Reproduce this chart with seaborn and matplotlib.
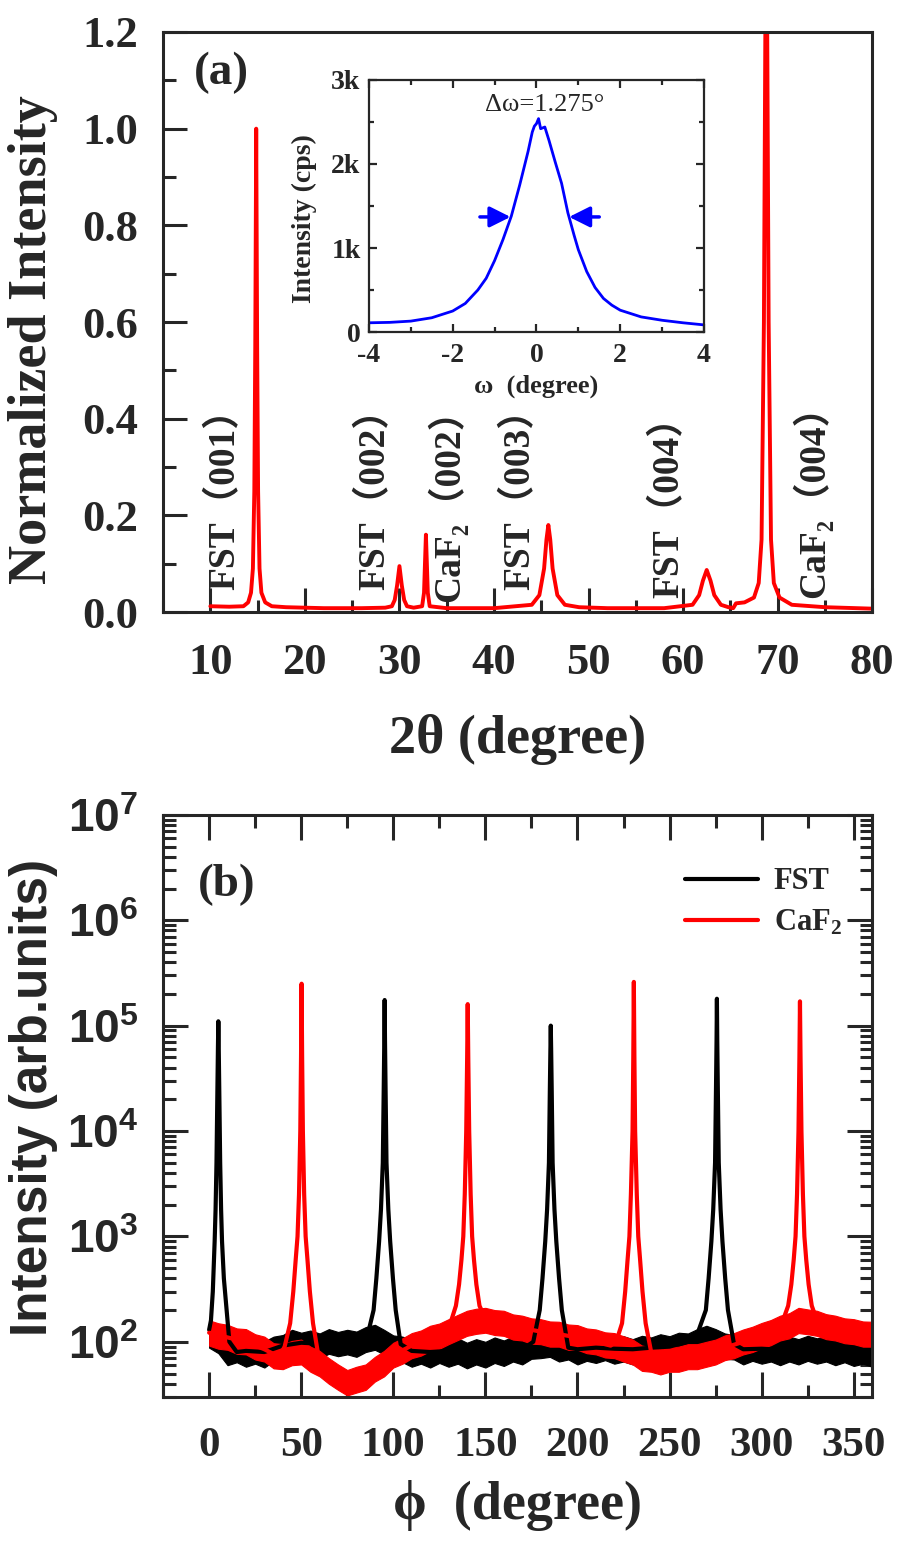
import numpy as np
import pandas as pd
import matplotlib
matplotlib.use('Agg')
import matplotlib.pyplot as plt
from matplotlib.ticker import MultipleLocator, LogLocator, NullFormatter, FuncFormatter, FormatStrFormatter
import seaborn as sns

# ---- (a) 2theta-omega scan, normalized ----
two_theta = [10, 12, 13.5, 14.0, 14.3, 14.5, 14.65, 14.75, 14.85, 14.95, 15.05, 15.2, 15.4, 15.8,
             16.5, 18, 22, 26, 28.5, 29.2, 29.5, 29.75, 30.0, 30.25, 30.5, 30.8, 31.5, 32.4,
             32.6, 32.7, 32.8, 32.9, 33.0, 33.2, 35, 40, 44.0, 44.8, 45.3, 45.55, 45.75, 45.95,
             46.2, 46.7, 47.5, 49, 52, 58, 61.0, 61.7, 62.1, 62.5, 62.9, 63.3, 64.0, 64.8,
             65.3, 65.6, 66.5, 67.5, 68.0, 68.3, 68.55, 68.8, 69.05, 69.3, 69.6, 70.2, 71.5,
             75, 80]
norm_int = [0.012, 0.011, 0.012, 0.02, 0.04, 0.09, 0.25, 0.55, 1.0, 0.55, 0.25, 0.09, 0.04, 0.02,
            0.012, 0.01, 0.008, 0.008, 0.009, 0.012, 0.025, 0.055, 0.095, 0.055, 0.025, 0.012,
            0.009, 0.012, 0.04, 0.1, 0.16, 0.1, 0.04, 0.012, 0.008, 0.008, 0.015, 0.035, 0.09,
            0.15, 0.18, 0.15, 0.09, 0.035, 0.015, 0.01, 0.008, 0.008, 0.015, 0.035, 0.065, 0.087,
            0.065, 0.035, 0.015, 0.01, 0.008, 0.018, 0.02, 0.03, 0.06, 0.15, 0.6, 1.6, 0.6, 0.15,
            0.06, 0.03, 0.015, 0.01, 0.007]
peak_labels = ['FST（001）', 'FST（002）', 'CaF₂（002）', 'FST（003）', 'FST（004）', 'CaF₂（004）']
label_x = [11.5, 27.4, 35.0, 42.7, 58.5, 73.6]
label_y = [0.045, 0.045, 0.02, 0.045, 0.03, 0.03]

# ---- inset: rocking curve ----
omega = [-4, -3.5, -3, -2.5, -2, -1.7, -1.4, -1.2, -1.0, -0.8, -0.6, -0.4, -0.2, -0.1,
         -0.05, 0, 0.05, 0.1, 0.2, 0.3, 0.45, 0.6, 0.75, 0.9, 1.0, 1.2, 1.4, 1.6, 1.8,
         2.0, 2.5, 3.0, 3.5, 4.0]
rock_cps = [110, 115, 130, 170, 250, 340, 500, 640, 850, 1100, 1380, 1750, 2150, 2380,
            2450, 2480, 2540, 2420, 2440, 2280, 2020, 1770, 1420, 1150, 980, 720, 530, 400, 320,
            260, 180, 140, 110, 85]
fwhm_text = 'Δω=1.275°'
arrow_y = 1370
arrow_left = (-1.35, -0.62)
arrow_right = (1.5, 0.78)

# ---- (b) phi scans ----
phi_fst = [0, 1, 2, 3, 3.5, 4, 4.5, 4.8, 5.0, 5.2, 5.5, 6, 6.5, 7, 8, 9.5, 11, 15, 20, 30, 40,
           50, 60, 70, 80, 86, 89.3, 90.8, 92.3, 93.3, 94.3, 94.8, 95.1, 95.3, 95.5, 95.8,
           96.3, 97.3, 98.3, 99.8, 101.3, 104, 110, 120, 130, 140, 150, 160, 170, 176, 179.5,
           181, 182.5, 183.5, 184.5, 185, 185.3, 185.5, 185.7, 186, 186.5, 187.5, 188.5, 190,
           191.5, 195, 200, 210, 220, 230, 240, 250, 264, 269.7, 271.2, 272.7, 273.7, 274.7,
           275.2, 275.5, 275.7, 275.9, 276.2, 276.7, 277.7, 278.7, 280.2, 281.7, 285, 290,
           300, 310, 320, 330, 340, 350, 360]
int_fst = [130, 160, 300, 900, 1800, 5000, 25000, 65000, 110000, 65000, 25000, 5000, 1800,
           900, 400, 200, 100, 80, 82, 80, 92, 98, 96, 100, 100, 115, 200, 400, 900, 1800,
           5000, 25000, 70000, 175000, 70000, 25000, 5000, 1800, 900, 400, 200, 95, 82, 80,
           82, 78, 80, 82, 85, 100, 200, 400, 900, 1800, 5000, 25000, 60000, 100000, 60000,
           25000, 5000, 1800, 900, 400, 200, 88, 85, 88, 86, 85, 88, 90, 105, 200, 400, 900,
           1800, 5000, 25000, 70000, 180000, 70000, 25000, 5000, 1800, 900, 400, 200, 95, 85,
           86, 84, 85, 86, 84, 82, 80]
phi_caf2 = [0, 10, 20, 30, 38, 41, 44, 45.7, 47, 48, 48.8, 49.5, 49.9, 50.2, 50.5, 50.9, 51.6,
            52.4, 53.4, 54.7, 56.4, 59, 65, 70, 75, 80, 90, 100, 110, 120, 128, 131, 134,
            135.7, 137, 138, 138.8, 139.6, 140.1, 140.4, 140.7, 141.2, 142, 142.8, 143.8,
            145.1, 146.8, 150, 160, 170, 180, 190, 200, 210, 218, 221, 224.2, 225.9, 227.2,
            228.2, 229, 229.9, 230.3, 230.6, 230.9, 231.3, 232.2, 233, 234, 235.3, 237, 240,
            250, 260, 270, 280, 290, 300, 310, 311, 314.4, 316.1, 317.4, 318.4, 319.2, 320,
            320.5, 320.8, 321.1, 321.6, 322.4, 323.2, 324.2, 325.5, 327.2, 330, 340, 350, 360]
int_caf2 = [122, 110, 100, 85, 72, 90, 150, 300, 600, 1000, 2500, 10000, 50000, 250000, 50000,
            10000, 2500, 1000, 600, 300, 150, 80, 55, 45, 40, 44, 55, 75, 92, 108, 125, 150,
            220, 350, 600, 1000, 2500, 10000, 50000, 160000, 50000, 10000, 2500, 1000, 600,
            350, 220, 165, 150, 135, 125, 118, 110, 100, 92, 100, 150, 300, 600, 1000, 2500,
            10000, 50000, 260000, 50000, 10000, 2500, 1000, 600, 300, 150, 80, 68, 72, 76, 88,
            100, 115, 135, 150, 220, 350, 600, 1000, 2500, 10000, 50000, 170000, 50000, 10000,
            2500, 1000, 600, 350, 220, 160, 135, 125, 118]

# noise band of the background (every 5 degrees)
band_phi = list(range(0, 361, 5))
fst_lo = [88, 78, 60, 64, 58, 62, 57, 66, 68, 76, 72, 75, 70, 77, 73, 76, 72, 80, 84, 76,
          66, 64, 58, 62, 57, 63, 58, 62, 56, 61, 57, 63, 59, 65, 61, 69, 70, 72, 65, 68,
          61, 66, 63, 67, 62, 65, 61, 66, 63, 69, 65, 71, 69, 77, 82, 77, 69, 68, 61, 66,
          62, 65, 60, 65, 61, 66, 62, 65, 60, 64, 59, 62, 58]
fst_hi = [148, 130, 100, 108, 103, 106, 101, 112, 116, 130, 122, 128, 120, 132, 124, 130,
          125, 138, 145, 130, 115, 112, 103, 108, 100, 110, 102, 108, 98, 106, 100, 110, 103,
          112, 106, 118, 120, 122, 112, 117, 106, 114, 110, 116, 108, 113, 106, 114, 110, 118,
          113, 122, 120, 132, 142, 132, 120, 116, 106, 114, 108, 113, 105, 112, 106, 114, 108,
          112, 105, 110, 103, 107, 100]
caf2_lo = [92, 86, 84, 77, 76, 68, 65, 56, 55, 60, 61, 52, 47, 40, 35, 31, 33, 35, 42, 47,
           57, 62, 70, 74, 82, 86, 95, 104, 114, 119, 122, 116, 114, 105, 103, 96, 95, 90, 90,
           84, 84, 78, 76, 71, 70, 65, 61, 53, 52, 49, 52, 52, 55, 55, 58, 61, 67, 70, 76, 80,
           87, 93, 103, 108, 121, 118, 114, 106, 103, 97, 95, 90, 90]
caf2_hi = [160, 150, 145, 134, 132, 118, 112, 97, 95, 102, 105, 90, 82, 70, 61, 54, 58, 61,
           72, 82, 98, 108, 121, 128, 142, 149, 164, 180, 197, 206, 210, 200, 197, 182, 177,
           167, 164, 156, 155, 146, 144, 134, 131, 123, 121, 113, 105, 92, 89, 85, 89, 90, 95,
           95, 100, 105, 115, 121, 131, 139, 151, 161, 177, 187, 210, 203, 197, 183, 177, 167,
           164, 156, 155]

sns.set_style('ticks')
serif = ['Liberation Serif', 'DejaVu Serif', 'Noto Sans CJK SC']
plt.rcParams['font.family'] = serif
plt.rcParams['font.weight'] = 'bold'
plt.rcParams['axes.unicode_minus'] = False
plt.rcParams['mathtext.fontset'] = 'custom'
plt.rcParams['mathtext.rm'] = 'Liberation Serif:bold'
plt.rcParams['mathtext.bf'] = 'Liberation Serif:bold'
plt.rcParams['mathtext.it'] = 'Liberation Serif:bold:italic'
plt.rcParams['mathtext.sf'] = 'Liberation Sans:bold'
plt.rcParams['axes.linewidth'] = 2.2

fig = plt.figure(figsize=(9.01, 15.53), dpi=100)
ax_a = fig.add_axes([0.181, 0.6059, 0.787, 0.3735])
ax_b = fig.add_axes([0.181, 0.1005, 0.787, 0.3748])
ax_in = fig.add_axes([0.4095, 0.7862, 0.3718, 0.1623])

# ---------- panel (a) ----------
sns.lineplot(x=two_theta, y=norm_int, ax=ax_a, color='red', linewidth=2.8,
             sort=False, estimator=None)
ax_a.set_xlim(5, 80)
ax_a.set_ylim(0, 1.2)
ax_a.xaxis.set_major_locator(MultipleLocator(10))
ax_a.xaxis.set_minor_locator(MultipleLocator(5))
ax_a.yaxis.set_major_locator(MultipleLocator(0.2))
ax_a.yaxis.set_minor_locator(MultipleLocator(0.1))
ax_a.yaxis.set_major_formatter(FormatStrFormatter('%.1f'))
ax_a.tick_params(which='both', direction='in', top=False, right=False, width=2.2)
ax_a.tick_params(which='major', length=17, labelsize=32)
ax_a.tick_params(which='minor', length=9)
ax_a.tick_params(axis='x', which='major', pad=22)
ax_a.tick_params(axis='y', which='major', pad=18)
ax_a.set_xlabel('2θ (degree)', fontsize=39, fontweight='bold')
ax_a.set_ylabel('Normalized Intensity', fontsize=39, fontweight='bold')
ax_a.xaxis.set_label_coords(0.5, -0.175)
ax_a.yaxis.set_label_coords(-0.148, 0.47)
ax_a.text(0.083, 0.929, '(a)', transform=ax_a.transAxes, fontsize=34,
          fontweight='bold', ha='center', va='center')
for lab, lx, ly in zip(peak_labels, label_x, label_y):
    ax_a.text(lx, ly, lab, rotation=90, rotation_mode='anchor', ha='left', va='center',
              fontsize=27, fontweight='bold', family=serif)

# ---------- inset ----------
sns.lineplot(x=omega, y=rock_cps, ax=ax_in, color='blue', linewidth=2.0,
             sort=False, estimator=None)
ax_in.set_xlim(-4, 4)
ax_in.set_ylim(0, 3000)
ax_in.xaxis.set_major_locator(MultipleLocator(2))
ax_in.xaxis.set_minor_locator(MultipleLocator(1))
ax_in.yaxis.set_major_locator(MultipleLocator(1000))
ax_in.yaxis.set_minor_locator(MultipleLocator(500))
ax_in.yaxis.set_major_formatter(FuncFormatter(lambda v, p: '0' if v == 0 else '%dk' % (v / 1000)))
ax_in.tick_params(which='both', direction='in', top=True, right=True, width=1.6)
ax_in.tick_params(which='major', length=6, labelsize=20)
ax_in.tick_params(axis='x', which='major', pad=8)
ax_in.tick_params(axis='y', which='major', pad=6)
ax_in.tick_params(which='minor', length=3.5)
for s in ax_in.spines.values():
    s.set_linewidth(1.6)
ax_in.set_xlabel('ω  (degree)', fontsize=19, fontweight='bold')
ax_in.set_ylabel('Intensity (cps)', fontsize=20, fontweight='bold')
ax_in.xaxis.set_label_coords(0.5, -0.17)
ax_in.yaxis.set_label_coords(-0.155, 0.45)
ax_in.text(0.2, 2700, fwhm_text, fontsize=19, fontweight='normal', ha='center', va='center')
arrow_kw = dict(arrowstyle='-|>,head_length=0.7,head_width=0.35', color='blue', lw=2.5,
                shrinkA=0, shrinkB=0, mutation_scale=18)
ax_in.annotate('', xy=(arrow_left[1], arrow_y), xytext=(arrow_left[0], arrow_y), arrowprops=arrow_kw)
ax_in.annotate('', xy=(arrow_right[1], arrow_y), xytext=(arrow_right[0], arrow_y), arrowprops=arrow_kw)

# ---------- panel (b) ----------
ax_b.set_yscale('log')
ax_b.fill_between(band_phi, fst_lo, fst_hi, color='black', linewidth=0.8)
sns.lineplot(x=phi_fst, y=int_fst, ax=ax_b, color='black', linewidth=3.0,
             sort=False, estimator=None, label='FST')
ax_b.fill_between(band_phi, caf2_lo, caf2_hi, color='red', linewidth=0.8)
sns.lineplot(x=phi_caf2, y=int_caf2, ax=ax_b, color='red', linewidth=3.0,
             sort=False, estimator=None, label='CaF$_2$')
ax_b.set_xlim(-25, 360)
ax_b.set_ylim(30, 1e7)
ax_b.xaxis.set_major_locator(MultipleLocator(50))
ax_b.xaxis.set_minor_locator(MultipleLocator(25))
ax_b.yaxis.set_major_locator(LogLocator(base=10, numticks=20))
ax_b.yaxis.set_minor_locator(LogLocator(base=10, subs=np.arange(2, 10), numticks=100))
ax_b.yaxis.set_minor_formatter(NullFormatter())
ax_b.yaxis.set_major_formatter(FuncFormatter(lambda v, p: r'$\mathsf{10^{%d}}$' % round(np.log10(v))))
ax_b.tick_params(which='both', direction='in', top=True, right=True, width=2.2)
ax_b.tick_params(which='major', length=18)
ax_b.tick_params(which='minor', length=9)
ax_b.tick_params(axis='x', which='major', labelsize=31, pad=22)
ax_b.tick_params(axis='y', which='major', labelsize=33, pad=18)
ax_b.set_xlabel('ϕ  (degree)', fontsize=39, fontweight='bold')
ax_b.set_ylabel('Intensity (arb.units)', fontsize=37, fontweight='bold', family='Liberation Sans')
ax_b.xaxis.set_label_coords(0.5, -0.142)
ax_b.yaxis.set_label_coords(-0.148, 0.515)
ax_b.text(0.09, 0.88, '(b)', transform=ax_b.transAxes, fontsize=34,
          fontweight='bold', ha='center', va='center')
handles, labels = ax_b.get_legend_handles_labels()
ax_b.legend(handles, labels, loc='upper left', bbox_to_anchor=(0.736, 0.91), frameon=False,
            fontsize=22, handlelength=2.4, handletextpad=0.5, labelspacing=0.4,
            borderpad=0, borderaxespad=0)

fig.savefig('out.png', dpi=100)
